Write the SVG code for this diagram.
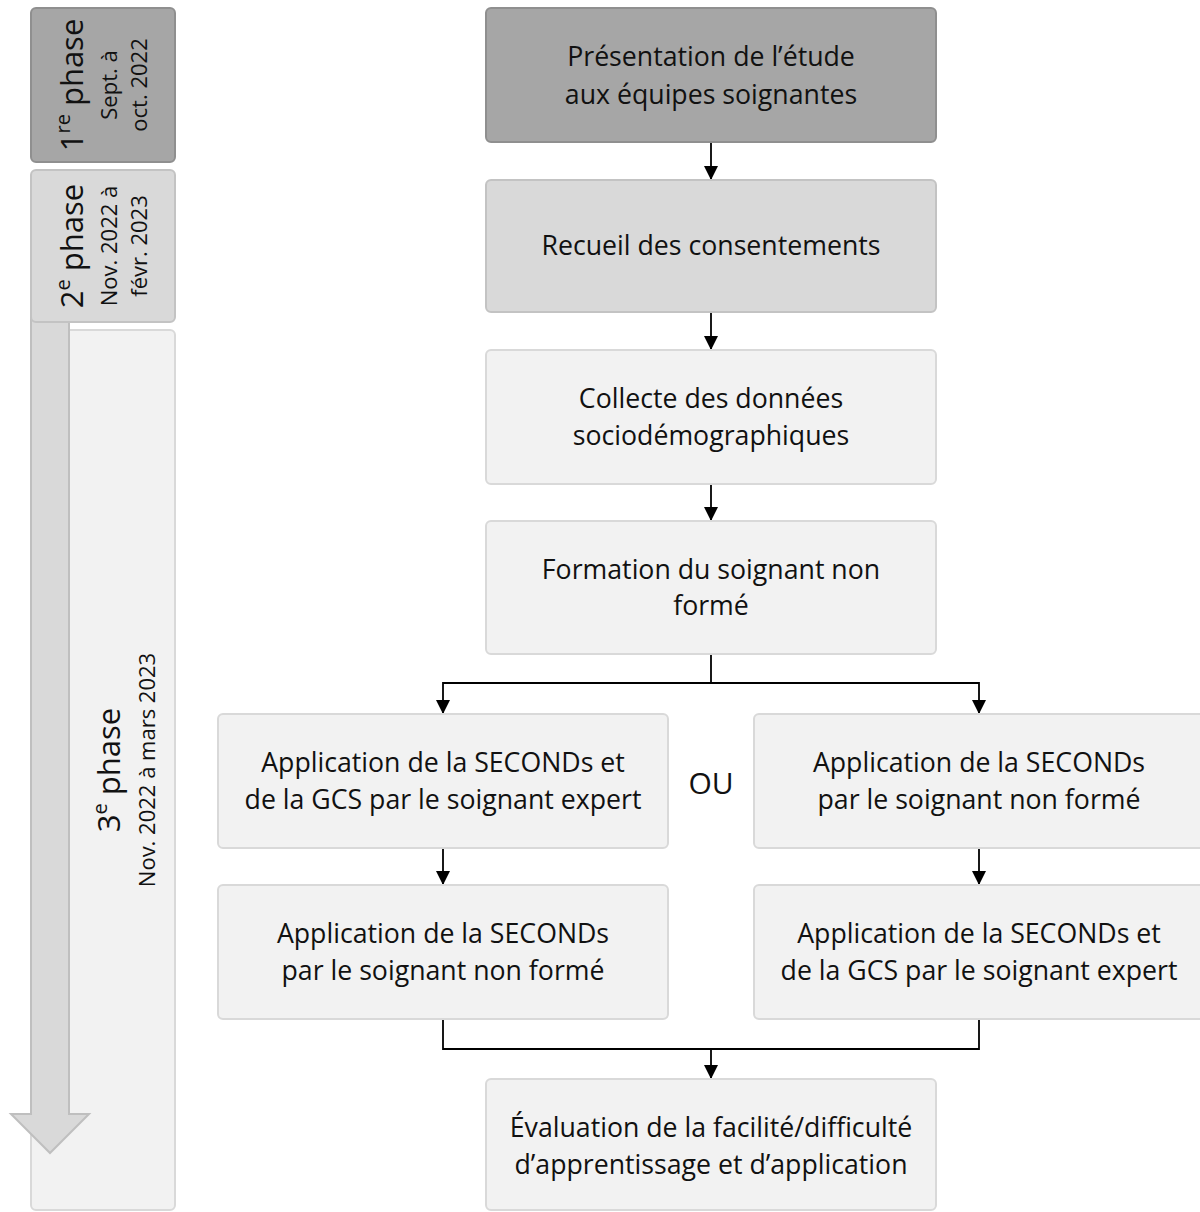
<svg xmlns="http://www.w3.org/2000/svg" width="1200" height="1212" viewBox="0 0 1200 1212">
<style>
  text { font-family: "Open Sans", "Liberation Sans", sans-serif; fill: #111; }
  .t { font-size: 26.7px; text-anchor: middle; }
  .ph { font-size: 31px; text-anchor: middle; }
  .ds { font-size: 22px; text-anchor: middle; }
  .dark { fill: #a6a6a6; stroke: #8f8f8f; stroke-width: 2; }
  .mid { fill: #d9d9d9; stroke: #c3c3c3; stroke-width: 2; }
  .light { fill: #f2f2f2; stroke: #d9d9d9; stroke-width: 2; }
  .conn { fill: none; stroke: #000; stroke-width: 1.8; }
</style>
<defs>
  <marker id="ah" viewBox="0 0 14 14" refX="14" refY="7" markerWidth="14" markerHeight="14" markerUnits="userSpaceOnUse" orient="auto">
    <path d="M0,0 L14,7 L0,14 z" fill="#000"/>
  </marker>
</defs>
<rect width="1200" height="1212" fill="#fff"/>

<g id="phase3">
  <rect class="light" x="31" y="330" width="144" height="880" rx="5"/>
</g>
<g id="timeline-arrow">
  <polygon points="31,300 69,300 69,1114 89,1114 50,1153 11,1114 31,1114" fill="#d9d9d9" stroke="#bfbfbf" stroke-width="2"/>
</g>
<g id="phase3-text">
  <text class="ph" transform="translate(120,770) rotate(-90)">3<tspan font-size="20" baseline-shift="super">e</tspan> phase</text>
  <text class="ds" transform="translate(155,770) rotate(-90)">Nov. 2022 à mars 2023</text>
</g>
<g id="phase1">
  <rect class="dark" x="31" y="8" width="144" height="154" rx="5"/>
  <text class="ph" transform="translate(83,85) rotate(-90)">1<tspan font-size="20" baseline-shift="super">re</tspan> phase</text>
  <text class="ds" transform="translate(117,85) rotate(-90)">Sept. à</text>
  <text class="ds" transform="translate(147,85) rotate(-90)">oct. 2022</text>
</g>
<g id="phase2">
  <rect class="mid" x="31" y="170" width="144" height="152" rx="5"/>
  <text class="ph" transform="translate(83,246) rotate(-90)">2<tspan font-size="20" baseline-shift="super">e</tspan> phase</text>
  <text class="ds" transform="translate(117,246) rotate(-90)">Nov. 2022 à</text>
  <text class="ds" transform="translate(147,246) rotate(-90)">févr. 2023</text>
</g>

<g id="connectors">
  <path class="conn" d="M711,142 V180" marker-end="url(#ah)"/>
  <path class="conn" d="M711,312 V350" marker-end="url(#ah)"/>
  <path class="conn" d="M711,484 V521" marker-end="url(#ah)"/>
  <path class="conn" d="M711,654 V683"/>
  <path class="conn" d="M711,683 H443 V714" marker-end="url(#ah)"/>
  <path class="conn" d="M711,683 H979 V714" marker-end="url(#ah)"/>
  <path class="conn" d="M443,848 V885" marker-end="url(#ah)"/>
  <path class="conn" d="M979,848 V885" marker-end="url(#ah)"/>
  <path class="conn" d="M443,1019 V1049 H979 V1019"/>
  <path class="conn" d="M711,1049 V1079" marker-end="url(#ah)"/>
</g>

<g id="n1">
  <rect class="dark" x="486" y="8" width="450" height="134" rx="5"/>
  <text class="t" x="711" y="66">Présentation de l’étude</text>
  <text class="t" x="711" y="104">aux équipes soignantes</text>
</g>
<g id="n2">
  <rect class="mid" x="486" y="180" width="450" height="132" rx="5"/>
  <text class="t" x="711" y="255">Recueil des consentements</text>
</g>
<g id="n3">
  <rect class="light" x="486" y="350" width="450" height="134" rx="5"/>
  <text class="t" x="711" y="408">Collecte des données</text>
  <text class="t" x="711" y="445">sociodémographiques</text>
</g>
<g id="n4">
  <rect class="light" x="486" y="521" width="450" height="133" rx="5"/>
  <text class="t" x="711" y="579">Formation du soignant non</text>
  <text class="t" x="711" y="615">formé</text>
</g>
<g id="n5">
  <rect class="light" x="218" y="714" width="450" height="134" rx="5"/>
  <text class="t" x="443" y="772">Application de la SECONDs et</text>
  <text class="t" x="443" y="809">de la GCS par le soignant expert</text>
</g>
<g id="or">
  <text x="711" y="794" style="font-size:30px;text-anchor:middle">OU</text>
</g>
<g id="n6">
  <rect class="light" x="754" y="714" width="450" height="134" rx="5"/>
  <text class="t" x="979" y="772">Application de la SECONDs</text>
  <text class="t" x="979" y="809">par le soignant non formé</text>
</g>
<g id="n7">
  <rect class="light" x="218" y="885" width="450" height="134" rx="5"/>
  <text class="t" x="443" y="943">Application de la SECONDs</text>
  <text class="t" x="443" y="980">par le soignant non formé</text>
</g>
<g id="n8">
  <rect class="light" x="754" y="885" width="450" height="134" rx="5"/>
  <text class="t" x="979" y="943">Application de la SECONDs et</text>
  <text class="t" x="979" y="980">de la GCS par le soignant expert</text>
</g>
<g id="n9">
  <rect class="light" x="486" y="1079" width="450" height="131" rx="5"/>
  <text class="t" x="711" y="1137">Évaluation de la facilité/difficulté</text>
  <text class="t" x="711" y="1174">d’apprentissage et d’application</text>
</g>
</svg>
